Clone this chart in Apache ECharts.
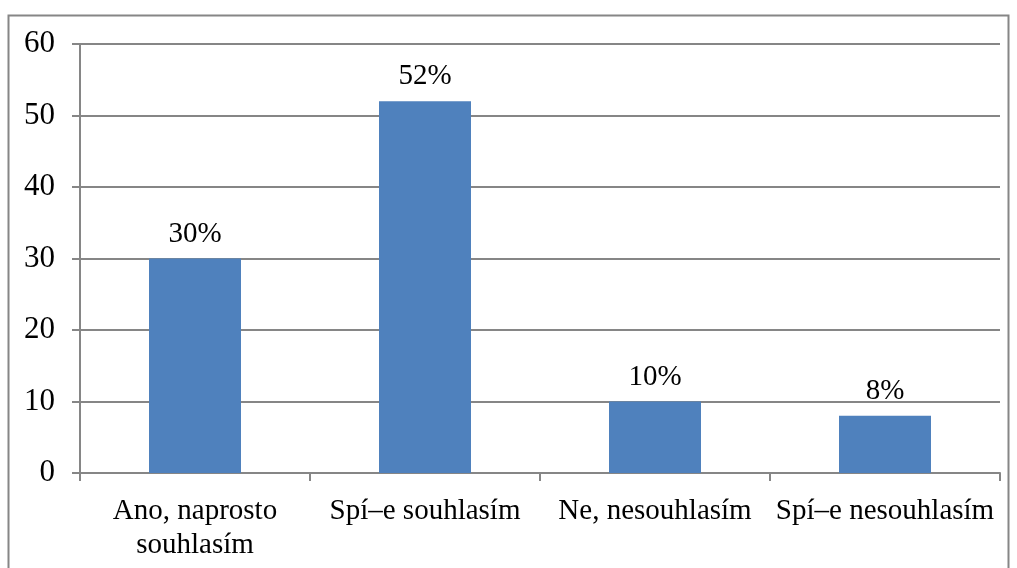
<!DOCTYPE html>
<html>
<head>
<meta charset="utf-8">
<script src="https://cdn.jsdelivr.net/npm/echarts@6/dist/echarts.min.js"></script>
<style>
html,body{margin:0;padding:0;background:#fff;}
#c{width:1017px;height:568px;}
</style>
</head>
<body>
<div id="c"></div>
<script>
var categories = ['Ano, naprosto\nsouhlasím', 'Spí–e souhlasím', 'Ne, nesouhlasím', 'Spí–e nesouhlasím'];
var values = [30, 52, 10, 8];
var valueLabels = ['30%', '52%', '10%', '8%'];

var chart = echarts.init(document.getElementById('c'));
var font = '"Liberation Serif", "Times New Roman", serif';
chart.setOption({
  animation: false,
  backgroundColor: '#ffffff',
  graphic: [{
    type: 'rect',
    shape: {x: 8.5, y: 15.5, width: 1000, height: 600},
    style: {fill: 'none', stroke: '#868686', lineWidth: 2}
  }],
  grid: {left: 80, right: 17, top: 44, bottom: 95, containLabel: false},
  xAxis: {
    type: 'category',
    data: categories,
    axisLine: {lineStyle: {color: '#868686', width: 2}},
    axisTick: {show: true, length: 8, lineStyle: {color: '#868686', width: 2}},
    axisLabel: {color: '#000', fontFamily: font, fontSize: 29, margin: 21, lineHeight: 34, interval: 0}
  },
  yAxis: {
    type: 'value',
    min: 0, max: 60, interval: 10,
    axisLine: {show: true, lineStyle: {color: '#868686', width: 2}},
    axisTick: {show: true, length: 8, lineStyle: {color: '#868686', width: 2}},
    splitLine: {lineStyle: {color: '#868686', width: 2}},
    axisLabel: {color: '#000', fontFamily: font, fontSize: 31, margin: 25}
  },
  series: [{
    type: 'bar',
    data: values,
    barWidth: '40%',
    itemStyle: {color: '#4F81BD'},
    label: {
      show: true, position: 'top', distance: 10,
      color: '#000', fontFamily: font, fontSize: 29,
      formatter: function (p) { return valueLabels[p.dataIndex]; }
    }
  }]
});
</script>
</body>
</html>
